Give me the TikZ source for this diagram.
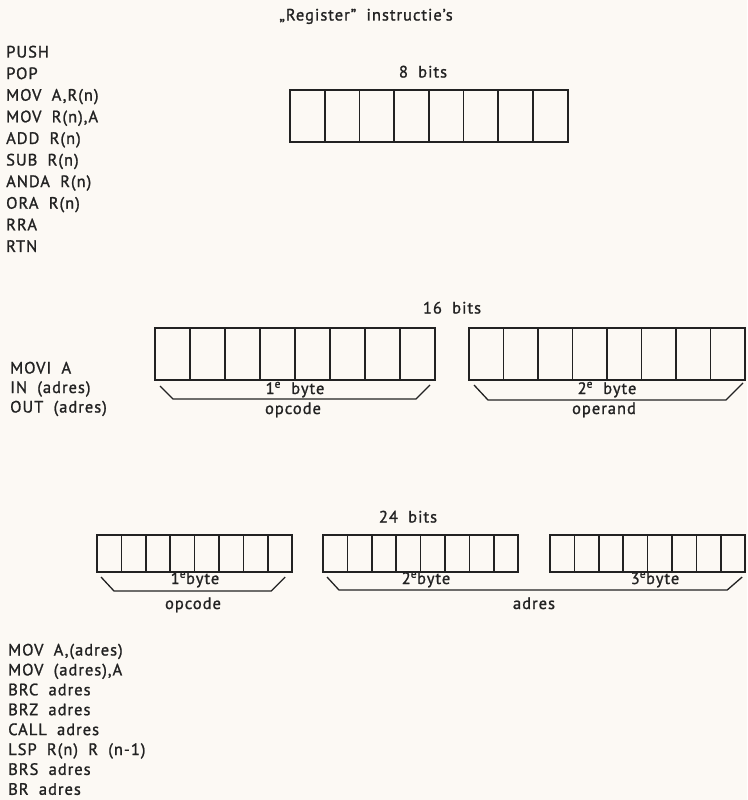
\documentclass[tikz,border=0pt]{standalone}
\usepackage{fontspec}
\setmainfont{PT Sans}[LetterSpace=6,FakeBold=1.2,WordSpace=1.9]
\usetikzlibrary{calc}
\definecolor{paper}{RGB}{252,249,244}
\definecolor{ink}{RGB}{34,34,34}

\begin{document}
\begin{tikzpicture}[
  x=1pt, y=-1pt,
  op/.style={anchor=base west, inner sep=0pt, text=ink, font=\fontsize{16.5}{19}\selectfont},
  tag/.style={anchor=base, inner sep=0pt, text=ink, font=\fontsize{16.5}{19}\selectfont},
  reg/.style={draw=ink, line width=1.9pt, inner sep=0pt, outer sep=0pt, anchor=north west},
  cellline/.style={draw=ink, line width=1.7pt},
  brace/.style={draw=ink, line width=1.3pt, line join=round}
]
\fill[paper] (0,0) rectangle (747,800);
\useasboundingbox (0,0) rectangle (747,800);

\node[tag] (title) at (366,20.5) {„Register” instructie’s};

% instruction lists
\foreach \t [count=\i from 0] in {PUSH,POP,{MOV A,R(n)},{MOV R(n),A},{ADD R(n)},{SUB R(n)},{ANDA R(n)},{ORA R(n)},RRA,RTN}
  \node[op] (rop\i) at (6,57.5+21.6*\i) {\t};
\foreach \t [count=\i from 0] in {MOVI A,IN (adres),OUT (adres)}
  \node[op] (iop\i) at (10,373.5+19.5*\i) {\t};
\foreach \t [count=\i from 0] in {{MOV A,(adres)},{MOV (adres),A},BRC adres,BRZ adres,CALL adres,{LSP R(n) R (n-1)},BRS adres,BR adres}
  \node[op] (aop\i) at (8,655.5+19.9*\i) {\t};

% registers
\foreach \n/\x/\y/\w/\h in {byte/290/90/34.7/52, opa/155/328/35/52, opb/469/328/34.5/52,
                            ada/97/535/24.4/37, adb/323/535/24.4/37, adc/550/535/24.4/37}{
  \node[reg, minimum width=8*\w, minimum height=\h] (\n) at (\x,\y) {};
  \foreach \k in {1,...,7}
    \draw[cellline] (\x+\k*\w,\y) -- ++(0,\h);
}

\node[tag] (bits8) at (423,77.5) {8 bits};
\node[tag] (bits16) at (452,313.5) {16 bits};
\node[tag] (bits24) at (408,522.5) {24 bits};

% brackets
\draw[brace] ($(opa.south west)+(5,6)$) -- ($(opa.south west)+(18,19)$) -- ($(opa.south east)+(-19,19)$) -- ($(opa.south east)+(-5,5)$);
\draw[brace] ($(opb.south west)+(5,5)$) -- ($(opb.south west)+(19,20)$) -- ($(opb.south east)+(-19,20)$) -- ($(opb.south east)+(-2,3)$);
\draw[brace] ($(ada.south west)+(4,5)$) -- ($(ada.south west)+(17,19)$) -- ($(ada.south east)+(-21,19)$) -- ($(ada.south east)+(-7,5)$);
\draw[brace] ($(adb.south west)+(4,5)$) -- ($(adb.south west)+(16,18)$) -- ($(adc.south east)+(-18,18)$) -- ($(adc.south east)+(-3,5)$);

\node[tag] (byte1) at (295,394) {1\textsuperscript{e} byte};
\node[tag] (byte2) at (607,394) {2\textsuperscript{e} byte};
\node[tag] (opc1) at (293,414) {opcode};
\node[tag] (oper) at (604,414) {operand};

\node[tag] (abyte1) at (195,584) {1\textsuperscript{e}byte};
\node[tag] (abyte2) at (426,584) {2\textsuperscript{e}byte};
\node[tag] (abyte3) at (655,584) {3\textsuperscript{e}byte};
\node[tag] (opc2) at (193,609) {opcode};
\node[tag] (adr) at (534,609) {adres};
\end{tikzpicture}
\end{document}
